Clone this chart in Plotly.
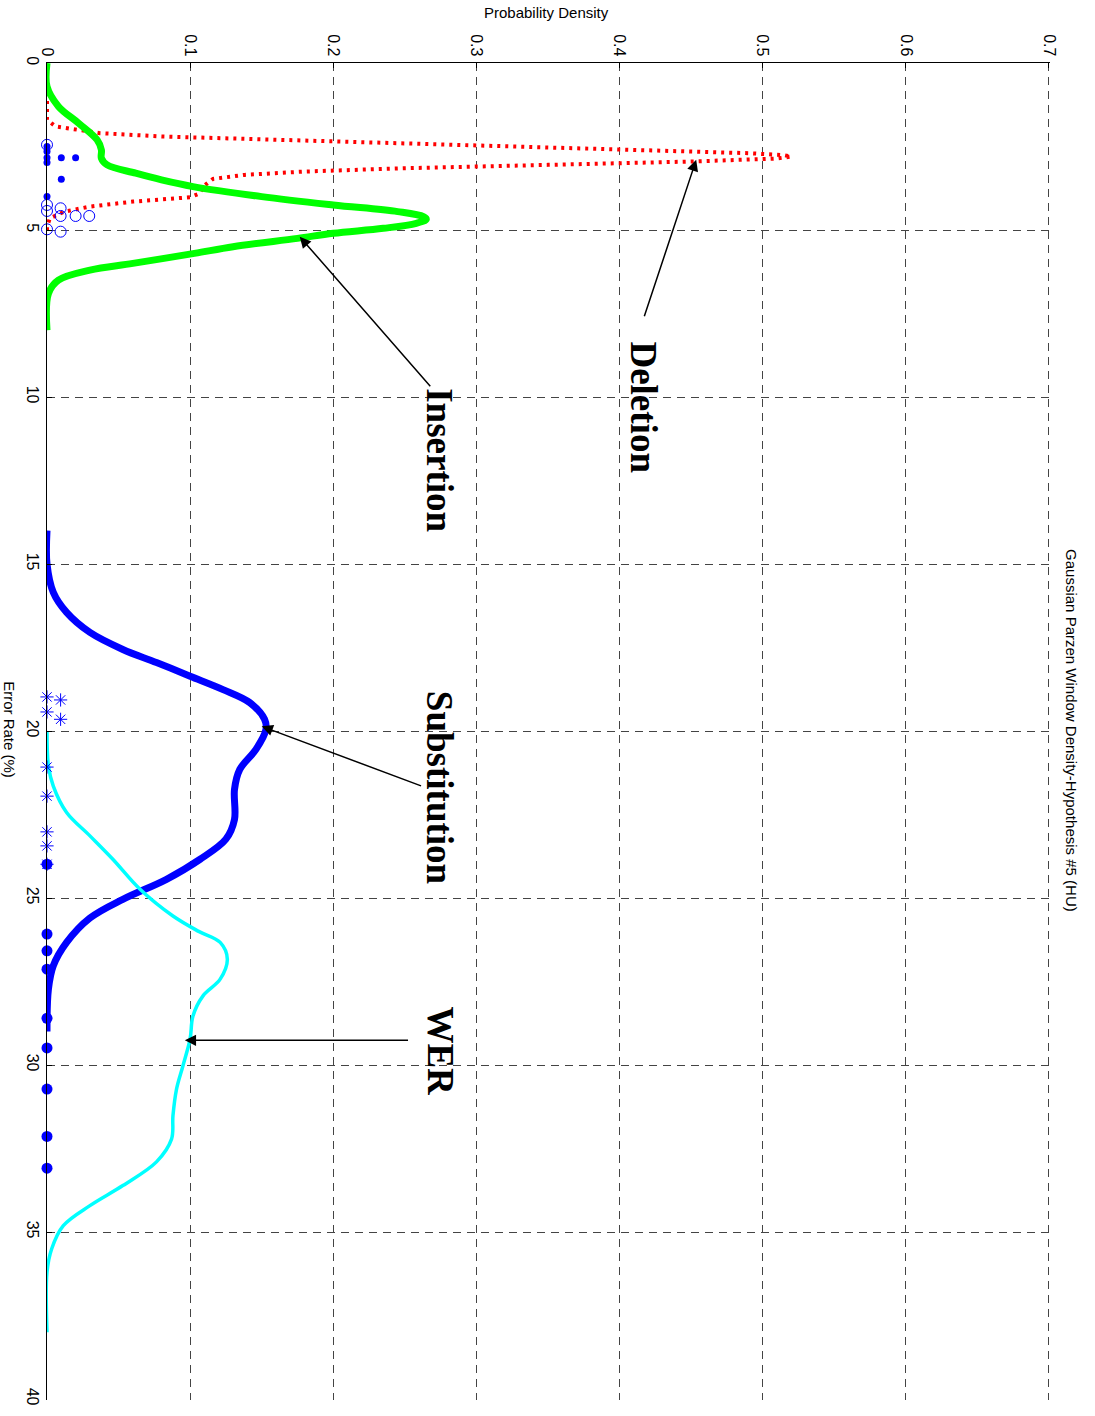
import plotly.graph_objects as go

# ---------------- data ----------------
# Deletion density curve (error rate %, density)
deletion_rate = [0.9, 1.7, 1.9, 2.0, 2.1, 2.2, 2.3, 2.4, 2.5, 2.6, 2.7, 2.76, 2.8, 2.86, 2.95,
                 3.05, 3.15, 3.25, 3.35, 3.47, 3.7, 3.9, 4.02, 4.15, 4.3, 4.45, 4.65, 4.9, 5.0]
deletion_density = [0, 0, 0.006, 0.02, 0.037, 0.08, 0.16, 0.24, 0.33, 0.42, 0.49, 0.515, 0.52, 0.51, 0.45,
                    0.35, 0.25, 0.18, 0.138, 0.116, 0.109, 0.107, 0.10, 0.06, 0.03, 0.012, 0.002, 0, 0]

# Insertion density curve
insertion_rate = [0, 0.7, 1.3, 1.8, 2.3, 2.6, 2.85, 3.05, 3.3, 3.5, 3.7, 4.0, 4.25, 4.45, 4.6, 4.68,
                  4.8, 4.95, 5.1, 5.25, 5.5, 5.7, 6.0, 6.2, 6.5, 6.9, 8.0]
insertion_density = [0, 0, 0.008, 0.022, 0.035, 0.038, 0.038, 0.042, 0.062, 0.08, 0.102, 0.150, 0.20, 0.245,
                     0.263, 0.265, 0.258, 0.235, 0.20, 0.175, 0.13, 0.103, 0.06, 0.03, 0.008, 0.001, 0]

# Substitution density curve
substitution_rate = [14.0, 15.0, 15.85, 16.45, 17.05, 17.56, 17.95, 18.36, 18.76, 19.15, 19.65, 19.95,
                     20.55, 21.15, 21.75, 22.65, 23.24, 23.84, 24.44, 25.04, 25.6, 26.33, 27.03, 27.73, 29.0]
substitution_density = [0, 0, 0.0044, 0.0137, 0.030, 0.053, 0.0765, 0.100, 0.123, 0.1417, 0.152, 0.153,
                        0.146, 0.1347, 0.131, 0.131, 0.125, 0.107, 0.0835, 0.053, 0.030, 0.0137, 0.0044, 0.001, 0]

# WER density curve
wer_rate = [20.0, 21.05, 21.65, 22.44, 23.14, 23.84, 24.74, 25.54, 26.0, 26.33, 26.83, 27.43, 27.93,
            28.53, 29.22, 30.02, 30.72, 31.52, 32.22, 32.9, 33.61, 34.21, 34.81, 35.5, 36.2, 38.0]
wer_density = [0, 0.001, 0.0044, 0.0137, 0.030, 0.046, 0.065, 0.088, 0.106, 0.121, 0.126, 0.121, 0.109,
               0.102, 0.100, 0.095, 0.0905, 0.088, 0.087, 0.0765, 0.053, 0.030, 0.0114, 0.0033, 0, 0]

# Observed samples (stacked near density 0)
del_pts_rate = [2.5, 2.65, 2.84, 2.84, 2.84, 2.98, 3.48, 4.0]
del_pts_dens = [0, 0, 0, 0.01, 0.02, 0, 0.01, 0]

ins_pts_rate = [2.45, 4.25, 4.43, 4.35, 4.58, 4.58, 4.58, 4.98, 5.05]
ins_pts_dens = [0, 0, 0, 0.0095, 0.0095, 0.02, 0.0295, 0, 0.0095]

sub_pts_rate = [18.98, 19.07, 19.43, 19.65, 21.08, 21.95, 23.02, 23.44, 23.99]
sub_pts_dens = [0, 0.0095, 0, 0.0095, 0, 0, 0, 0, 0]

wer_pts_rate = [23.99, 26.08, 26.58, 27.13, 28.6, 29.49, 30.72, 32.14, 33.09]
wer_pts_dens = [0, 0, 0, 0, 0, 0, 0, 0, 0]

density_ticks = [0, 0.1, 0.2, 0.3, 0.4, 0.5, 0.6, 0.7]
rate_ticks = [0, 5, 10, 15, 20, 25, 30, 35, 40]

# ---------------- figure ----------------
fig = go.Figure()

fig.add_trace(go.Scatter(x=deletion_density, y=deletion_rate, mode='lines',
                         line=dict(color='#FF0000', width=4, dash='3px,5px'), hoverinfo='skip'))
fig.add_trace(go.Scatter(x=insertion_density, y=insertion_rate, mode='lines', line_shape='spline',
                         line=dict(color='#00FF00', width=7), hoverinfo='skip'))
fig.add_trace(go.Scatter(x=substitution_density, y=substitution_rate, mode='lines', line_shape='spline',
                         line=dict(color='#0000FF', width=7), hoverinfo='skip'))
fig.add_trace(go.Scatter(x=wer_density, y=wer_rate, mode='lines', line_shape='spline',
                         line=dict(color='#00FFFF', width=3.5), hoverinfo='skip'))

fig.add_trace(go.Scatter(x=ins_pts_dens, y=ins_pts_rate, mode='markers', cliponaxis=False,
                         marker=dict(symbol='circle-open', size=11, color='#0000FF', line=dict(width=1))))
fig.add_trace(go.Scatter(x=del_pts_dens, y=del_pts_rate, mode='markers', cliponaxis=False,
                         marker=dict(symbol='circle', size=7, color='#0000FF')))
fig.add_trace(go.Scatter(x=sub_pts_dens, y=sub_pts_rate, mode='markers', cliponaxis=False,
                         marker=dict(symbol='asterisk-open', size=11, color='#0000FF', line=dict(width=1, color='#0000FF'))))
fig.add_trace(go.Scatter(x=wer_pts_dens, y=wer_pts_rate, mode='markers', cliponaxis=False,
                         marker=dict(symbol='circle', size=11, color='#0000FF')))

axis_font = dict(family='Liberation Sans, Arial, sans-serif', size=15, color='black')
tick_font = dict(family='Liberation Sans, Arial, sans-serif', size=16, color='black')

fig.update_xaxes(range=[0, 0.7008], side='top', tickvals=density_ticks,
                 ticktext=[f'{v:g}' for v in density_ticks], tickangle=90,
                 ticks='inside', ticklen=5, tickcolor='black', showline=True, linecolor='black', linewidth=1,
                 showgrid=True, gridcolor='#444444', griddash='8px,6px', gridwidth=1,
                 zeroline=False, tickfont=tick_font)
fig.update_yaxes(range=[40.03, 0], tickvals=rate_ticks,
                 ticktext=[f'{v:g}' for v in rate_ticks], tickangle=90,
                 ticks='inside', ticklen=5, tickcolor='black', showline=True, linecolor='black', linewidth=1,
                 showgrid=True, gridcolor='#444444', griddash='8px,6px', gridwidth=1,
                 zeroline=False, tickfont=tick_font)

label_font = dict(family='Liberation Serif, Times New Roman, serif', size=37, color='black', weight='bold')
arrow_style = dict(axref='x', ayref='y', xref='x', yref='y', text='', showarrow=True,
                   arrowhead=2, arrowsize=1.5, arrowwidth=1.5, arrowcolor='black')
annotations = [
    # arrows (tail -> head)
    dict(x=0.4536, y=2.90, ax=0.417, ay=7.63, **arrow_style),
    dict(x=0.1766, y=5.2, ax=0.2687, ay=9.72, **arrow_style),
    dict(x=0.150, y=19.86, ax=0.2624, ay=21.66, **arrow_style),
    dict(x=0.0963, y=29.26, ax=0.2533, ay=29.26, **arrow_style),
    # labels
    dict(x=0.4166, y=10.32, xref='x', yref='y', text='Deletion', showarrow=False, textangle=90,
         xanchor='center', yanchor='middle', font=label_font),
    dict(x=0.2743, y=11.88, xref='x', yref='y', text='Insertion', showarrow=False, textangle=90,
         xanchor='center', yanchor='middle', font=label_font),
    dict(x=0.2743, y=21.69, xref='x', yref='y', text='Substitution', showarrow=False, textangle=90,
         xanchor='center', yanchor='middle', font=label_font),
    dict(x=0.2743, y=29.58, xref='x', yref='y', text='WER', showarrow=False, textangle=90,
         xanchor='center', yanchor='middle', font=label_font),
    # titles
    dict(x=0.4985, y=1.038, xref='paper', yref='paper', text='Probability Density', showarrow=False,
         xanchor='center', yanchor='middle', font=axis_font),
    dict(x=-0.0369, y=0.501, xref='paper', yref='paper', text='Error Rate (%)', showarrow=False,
         textangle=90, xanchor='center', yanchor='middle', font=axis_font),
    dict(x=1.022, y=0.501, xref='paper', yref='paper', text='Gaussian Parzen Window Density-Hypothesis #5 (HU)',
         showarrow=False, textangle=90, xanchor='center', yanchor='middle', font=axis_font),
]

fig.update_layout(width=1095, height=1416, margin=dict(l=47, r=45, t=63, b=16, autoexpand=False),
                  plot_bgcolor='white', paper_bgcolor='white', showlegend=False,
                  annotations=annotations)

fig.write_html('out.html', config={'displayModeBar': False},
               post_script="document.body.style.margin='0';document.body.style.overflow='hidden';")
